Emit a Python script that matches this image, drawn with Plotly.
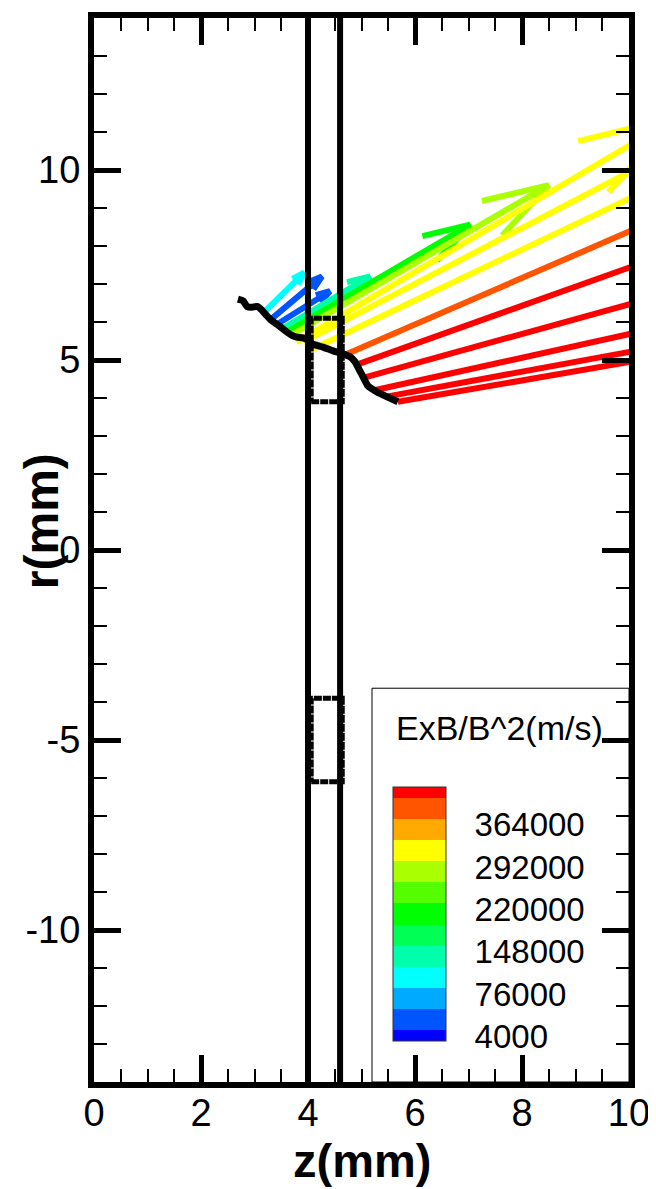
import bisect
import math
import plotly.graph_objects as go

# ---------------- data ----------------
z_tick_vals = [0, 2, 4, 6, 8, 10]
z_tick_text = ["0", "2", "4", "6", "8", "10"]
r_tick_vals = [-10, -5, 0, 5, 10]
r_tick_text = ["-10", "-5", "0", "5", "10"]

# boundary curve (z, r) in mm
curve_z = [2.69, 2.79, 2.86, 2.95, 3.05, 3.14, 3.22, 3.31, 3.42, 3.51, 3.61, 3.70,
           3.79, 3.91, 4.00, 4.09, 4.28, 4.47, 4.65, 4.79, 4.88, 4.97, 5.05, 5.12,
           5.29, 5.48, 5.68]
curve_r = [6.60, 6.55, 6.41, 6.39, 6.41, 6.31, 6.18, 6.05, 5.94, 5.84, 5.73, 5.65,
           5.60, 5.58, 5.52, 5.42, 5.34, 5.24, 5.16, 5.08, 4.95, 4.71, 4.50, 4.32,
           4.16, 4.03, 3.90]

# ExB drift vectors: origin, components (mm), magnitude (m/s)
arrow_z0 = [3.16, 3.29, 3.40, 3.50, 3.59, 3.68, 3.78, 3.91, 4.09, 4.65, 4.90, 5.03, 5.20, 5.44, 5.68]
arrow_r0 = [6.23, 6.05, 5.92, 5.81, 5.73, 5.65, 5.47, 5.47, 5.29, 5.11, 4.87, 4.53, 4.19, 4.03, 3.90]
arrow_dz = [0.77, 0.97, 1.01, 1.66, 3.44, 4.82, 7.12, 9.27, 10.45, 11.65, 12.66, 12.97, 13.14, 13.23, 13.26]
arrow_dr = [1.07, 1.15, 0.89, 1.39, 2.83, 3.95, 5.92, 6.81, 6.99, 7.12, 6.36, 5.05, 4.08, 3.42, 3.21]
arrow_val = [95000, 25000, 22000, 130000, 200000, 275000, 310000, 315000, 320000, 380000,
             430000, 430000, 430000, 430000, 430000]

# electrode walls and slots
wall_z = [4.0, 4.6]
slot_z = [4.06, 4.64]
slot_r_upper = [3.9, 6.1]
slot_r_lower = [-6.1, -3.9]

# contour levels of the legend
levels = [4000, 40000, 76000, 112000, 148000, 184000, 220000, 256000, 292000,
          328000, 364000, 400000]
label_levels = [4000, 76000, 148000, 220000, 292000, 364000]
label_text = ["4000", "76000", "148000", "220000", "292000", "364000"]
band_colors = ["#0000FF", "#0055FF", "#00AAFF", "#00FFFF", "#00FFAA", "#00FF55",
               "#00FF00", "#55FF00", "#AAFF00", "#FFFF00", "#FFAA00", "#FF5500",
               "#FF0000"]

# ---------------- layout geometry ----------------
OFF = 8                      # page body margin
W, H = 656 - OFF, 1189 - OFF
PL, PT, PR, PB = 94, 12, 629, 1082   # plot area in page pixels
ML, MT = PL - OFF, PT - OFF
MR = W - (PR - OFF)
MB = H - (PB - OFF)
PW, PH = PR - PL, PB - PT
z_range = [0, 10]
r_range = [-14, 14]
sx = PW / (z_range[1] - z_range[0])
sy = PH / (r_range[1] - r_range[0])


def px_x(x):   # page px -> paper x
    return (x - PL) / PW


def px_y(y):   # page px -> paper y
    return (PB - y) / PH


FONT = "Liberation Sans, Arial, Helvetica, sans-serif"

# colour scale edges: half a band below first / above last level
step = levels[1] - levels[0]
cmin = levels[0] - step / 2
cmax = levels[-1] + step / 2
edges = [cmin] + levels + [cmax]
colorscale = []
for i, c in enumerate(band_colors):
    colorscale.append([(edges[i] - cmin) / (cmax - cmin), c])
    colorscale.append([(edges[i + 1] - cmin) / (cmax - cmin), c])


def band_color(v):
    return band_colors[bisect.bisect_right(levels, v)]


fig = go.Figure()

# ---------------- vectors ----------------
HEAD_FRAC = 0.23
HEAD_ANG = math.radians(17)
for z0, r0, dz, dr, v in zip(arrow_z0, arrow_r0, arrow_dz, arrow_dr, arrow_val):
    z1, r1 = z0 + dz, r0 + dr
    px, py = dz * sx, dr * sy
    L = math.hypot(px, py)
    bx, by = -px / L, -py / L
    hl = HEAD_FRAC * L
    barbs = []
    for s in (1, -1):
        ca, sa = math.cos(s * HEAD_ANG), math.sin(s * HEAD_ANG)
        rx, ry = bx * ca - by * sa, bx * sa + by * ca
        barbs.append((z1 + rx * hl / sx, r1 + ry * hl / sy))
    xs = [z0, z1, None, barbs[0][0], z1, barbs[1][0]]
    ys = [r0, r1, None, barbs[0][1], r1, barbs[1][1]]
    fig.add_trace(go.Scatter(x=xs, y=ys, mode="lines",
                             line=dict(color=band_color(v), width=6),
                             hoverinfo="skip", showlegend=False))

# origins carrying the colour scale (invisible markers)
CB_L, CB_R, CB_T, CB_B = 393, 446, 787, 1041
fig.add_trace(go.Scatter(
    x=arrow_z0, y=arrow_r0, mode="markers",
    marker=dict(size=1, opacity=0, color=arrow_val, colorscale=colorscale,
                cmin=cmin, cmax=cmax, showscale=True,
                colorbar=dict(
                    thickness=CB_R - CB_L, thicknessmode="pixels",
                    len=CB_B - CB_T, lenmode="pixels",
                    x=px_x(CB_L), xanchor="left",
                    y=px_y(CB_B), yanchor="bottom",
                    xpad=0, ypad=0,
                    outlinewidth=1, outlinecolor="#333333",
                    borderwidth=0,
                    tickvals=[lv - 0.27 * step for lv in label_levels],
                    ticktext=label_text,
                    ticks="outside", ticklen=22, tickcolor="rgba(0,0,0,0)",
                    tickfont=dict(family=FONT, size=33, color="black"),
                )),
    hoverinfo="skip", showlegend=False))

# ---------------- boundary curve ----------------
fig.add_trace(go.Scatter(x=curve_z, y=curve_r, mode="lines",
                         line=dict(color="black", width=7, shape="spline", smoothing=0.6),
                         hoverinfo="skip", showlegend=False))

# ---------------- walls ----------------
for zw in wall_z:
    fig.add_trace(go.Scatter(x=[zw, zw], y=r_range, mode="lines",
                             line=dict(color="black", width=6),
                             hoverinfo="skip", showlegend=False))

# ---------------- slots (dashed rectangles) ----------------
for rr in (slot_r_upper, slot_r_lower):
    fig.add_trace(go.Scatter(
        x=[slot_z[0], slot_z[1], slot_z[1], slot_z[0], slot_z[0]],
        y=[rr[0], rr[0], rr[1], rr[1], rr[0]],
        mode="lines", line=dict(color="black", width=5, dash="8px,1px"),
        hoverinfo="skip", showlegend=False))

# ---------------- legend box, title and level lines ----------------
shapes = [dict(type="rect", xref="paper", yref="paper",
               x0=px_x(372), x1=1.0, y0=0, y1=px_y(686),
               line=dict(color="black", width=1), fillcolor="rgba(0,0,0,0)",
               layer="below")]
cb_y0 = px_y(CB_B)
cb_h = (CB_B - CB_T) / PH
for lv in label_levels + [levels[-1]]:
    yy = cb_y0 + (lv - cmin) / (cmax - cmin) * cb_h
    shapes.append(dict(type="line", xref="paper", yref="paper",
                       x0=px_x(CB_L), x1=px_x(CB_R), y0=yy, y1=yy,
                       line=dict(color="black", width=1.5)))

annotations = [
    dict(text="ExB/B^2(m/s)", xref="paper", yref="paper",
         x=px_x(499), y=px_y(726), showarrow=False,
         xanchor="center", yanchor="middle",
         font=dict(family=FONT, size=34, color="black")),
    dict(text="<b>z(mm)</b>", xref="paper", yref="paper",
         x=0.5, y=px_y(1161), showarrow=False,
         xanchor="center", yanchor="middle",
         font=dict(family=FONT, size=47, color="black")),
    dict(text="<b>r(mm)</b>", xref="paper", yref="paper",
         x=px_x(41), y=px_y(518), showarrow=False,
         textangle=-90, xanchor="center", yanchor="middle",
         font=dict(family=FONT, size=48, color="black")),
]

axis_common = dict(
    showline=True, linecolor="black", linewidth=6, mirror="allticks",
    ticks="inside", ticklen=27, tickwidth=5, tickcolor="black",
    showgrid=False, zeroline=False,
    tickfont=dict(family=FONT, size=38, color="black"),
)

fig.update_layout(
    width=W, height=H,
    margin=dict(l=ML, r=MR, t=MT, b=MB, pad=0),
    paper_bgcolor="white", plot_bgcolor="white",
    showlegend=False,
    xaxis=dict(range=z_range, tickmode="array", tickvals=z_tick_vals,
               ticktext=z_tick_text, ticklabelstandoff=-8,
               minor=dict(dtick=0.5, ticks="inside", ticklen=13, tickwidth=2,
                          tickcolor="black", showgrid=False),
               **axis_common),
    yaxis=dict(range=r_range, tickmode="array", tickvals=r_tick_vals,
               ticktext=r_tick_text, ticklabelstandoff=0,
               minor=dict(dtick=1, ticks="inside", ticklen=13, tickwidth=2,
                          tickcolor="black", showgrid=False),
               **axis_common),
    shapes=shapes,
    annotations=annotations,
)

fig.write_html("out.html")
